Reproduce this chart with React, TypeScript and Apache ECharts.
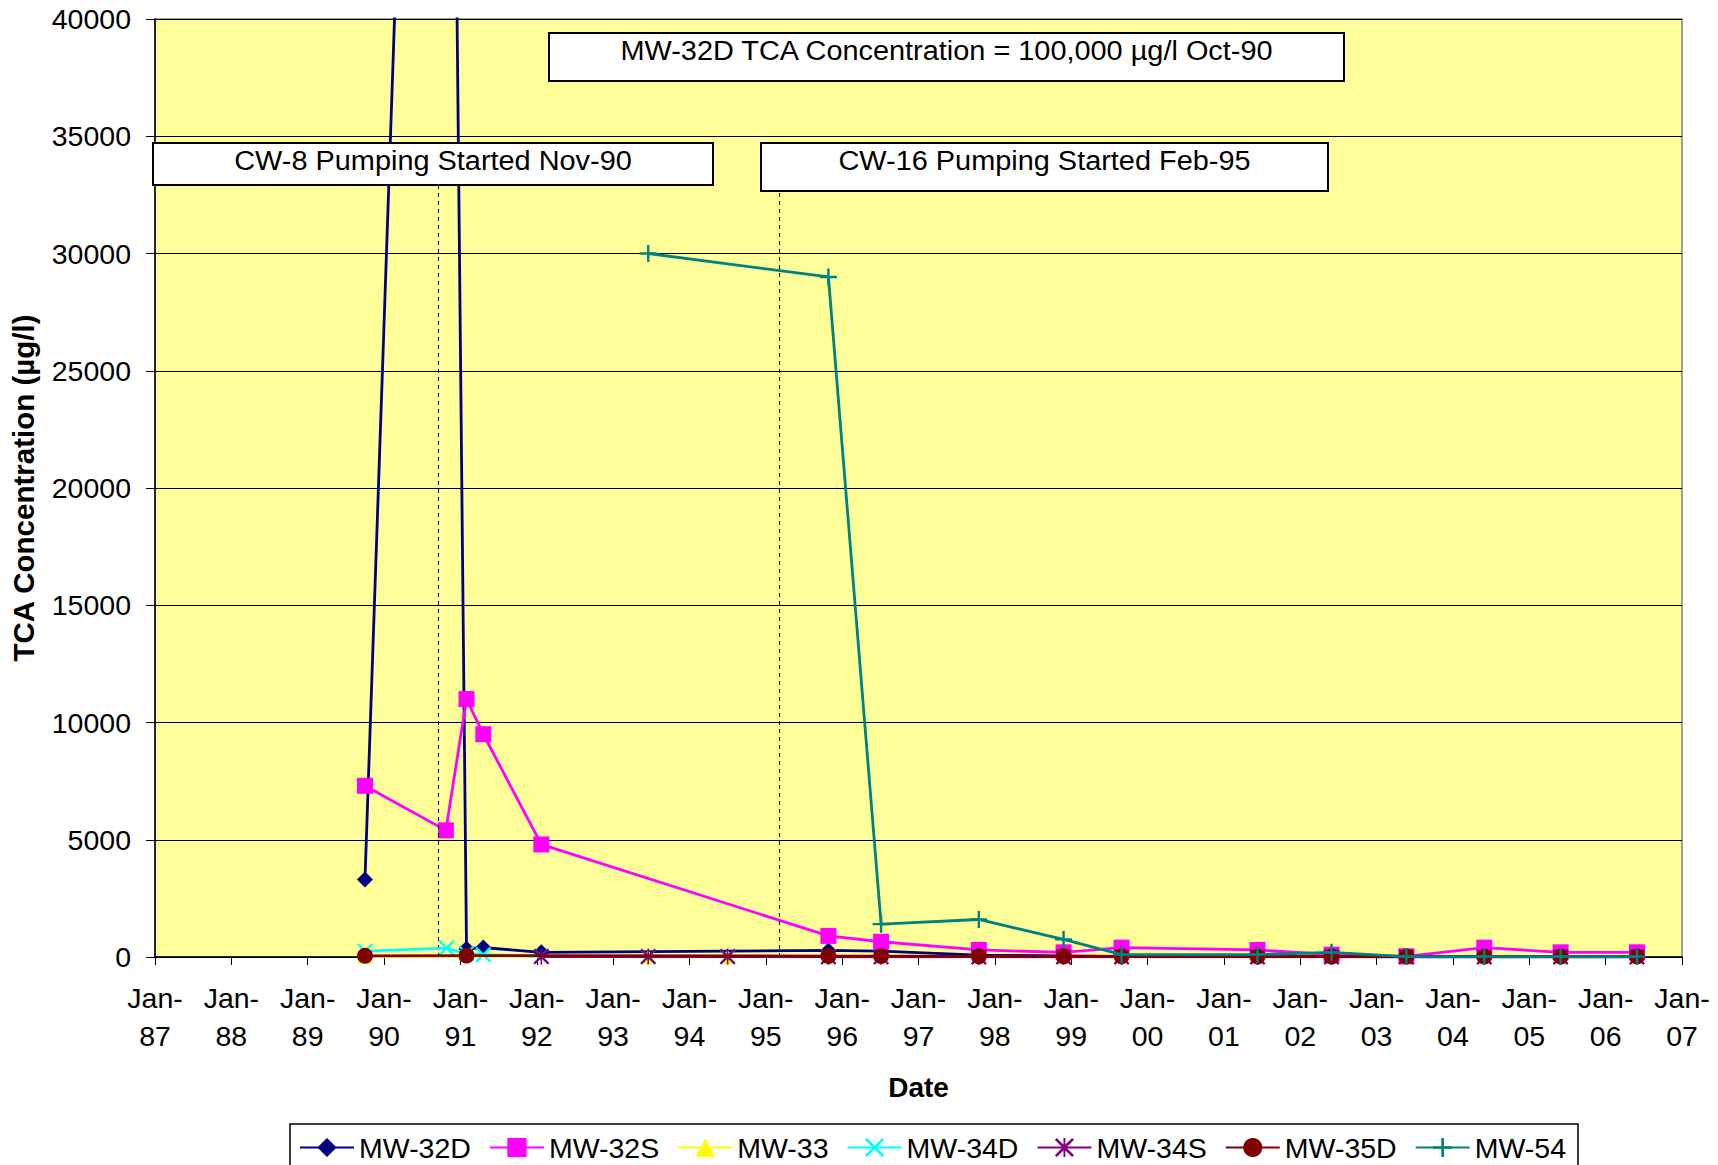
import React, { useEffect, useRef } from 'react';
import * as echarts from 'echarts';

// ---- data (decimal year, TCA µg/l) ----
const mw32dDates = [1989.75, 1990.77, 1991.08, 1991.3, 1992.06, 1995.82, 1996.51, 1997.79, 1998.9, 1999.66, 2001.44, 2002.41, 2003.39, 2004.41, 2005.41, 2006.41];
const mw32dValues = [3300, 100000, 350, 400, 200, 280, 250, 80, 50, 30, 20, 20, 10, 10, 10, 10];

const mw32sDates = [1989.75, 1990.81, 1991.08, 1991.3, 1992.06, 1995.82, 1996.51, 1997.79, 1998.9, 1999.66, 2001.44, 2002.41, 2003.39, 2004.41, 2005.41, 2006.41];
const mw32sValues = [7300, 5400, 11000, 9500, 4800, 900, 650, 300, 200, 400, 300, 100, 30, 400, 200, 200];

const mw33Dates = [1989.75, 1993.46, 1994.5];
const mw33Values = [20, 10, 10];

const mw34dDates = [1989.75, 1990.82, 1991.08, 1991.3, 1992.06, 1993.46, 1994.5, 1995.82, 1996.51];
const mw34dValues = [250, 380, 150, 100, 30, 10, 10, 10, 10];

const mw34sDates = [1992.06, 1993.46, 1994.5, 1995.82, 1996.51, 1997.79, 1998.9, 1999.66, 2001.44, 2002.41, 2003.39, 2004.41, 2005.41, 2006.41];
const mw34sValues = [20, 20, 20, 10, 10, 5, 5, 5, 5, 5, 5, 5, 5, 5];

const mw35dDates = [1989.75, 1991.08, 1995.82, 1996.51, 1997.79, 1998.9, 1999.66, 2001.44, 2002.41, 2003.39, 2004.41, 2005.41, 2006.41];
const mw35dValues = [50, 60, 40, 40, 30, 30, 30, 20, 20, 20, 20, 20, 20];

const mw54Dates = [1993.46, 1995.82, 1996.51, 1997.79, 1998.9, 1999.66, 2001.44, 2002.41, 2003.39, 2004.41, 2005.41, 2006.41];
const mw54Values = [30000, 29000, 1400, 1600, 750, 100, 100, 200, 20, 20, 20, 20];

const seriesNames = ['MW-32D', 'MW-32S', 'MW-33', 'MW-34D', 'MW-34S', 'MW-35D', 'MW-54'];
const seriesDates = [mw32dDates, mw32sDates, mw33Dates, mw34dDates, mw34sDates, mw35dDates, mw54Dates];
const seriesValues = [mw32dValues, mw32sValues, mw33Values, mw34dValues, mw34sValues, mw35dValues, mw54Values];

// pumping start markers (decimal year) and annotation texts
const pumpingStartDates = [1990.71, 1995.18];
const pumpingLineTop = 33000;
const noteTexts = [
  'MW-32D TCA Concentration = 100,000 µg/l Oct-90',
  'CW-8 Pumping Started Nov-90',
  'CW-16 Pumping Started Feb-95',
];

const xMin = 1987;
const xMax = 2007;
const yMin = 0;
const yMax = 40000;
const yStep = 5000;

// ---- styles ----
const FONT = '"Liberation Sans", Arial, Helvetica, sans-serif';
const PLUS = 'path://M8.6,0 L11.4,0 L11.4,8.6 L20,8.6 L20,11.4 L11.4,11.4 L11.4,20 L8.6,20 L8.6,11.4 L0,11.4 L0,8.6 L8.6,8.6 Z';
const XMARK = 'path://M0,2 L2,0 L10,8 L18,0 L20,2 L12,10 L20,18 L18,20 L10,12 L2,20 L0,18 L8,10 Z';
const STAR = 'path://M0,2 L2,0 L10,8 L18,0 L20,2 L12,10 L20,18 L18,20 L10,12 L2,20 L0,18 L8,10 Z M9,0 L11,0 L11,20 L9,20 Z';
const seriesColors = ['#000080', '#FF00FF', '#FFFF00', '#00FFFF', '#800080', '#800000', '#008080'];
const seriesSymbols = ['diamond', 'rect', 'triangle', XMARK, STAR, 'circle', PLUS];
const seriesSymbolSizes = [16, 16, 15, 16, 16, 16, 17];

export default function App() {
  const ref = useRef<HTMLDivElement | null>(null);

  useEffect(() => {
    if (!ref.current) return;
    const chart = echarts.init(ref.current, null, { renderer: 'svg' });

    const series: any[] = seriesNames.map((name, i) => ({
      name,
      type: 'line',
      data: seriesDates[i].map((d, j) => [d, seriesValues[i][j]]),
      symbol: seriesSymbols[i],
      symbolSize: seriesSymbolSizes[i],
      showAllSymbol: true,
      clip: true,
      z: 2 + i,
      lineStyle: { color: seriesColors[i], width: 2.8 },
      itemStyle: { color: seriesColors[i], borderColor: seriesColors[i], borderWidth: 0 },
      emphasis: { disabled: true },
    }));

    series[0].markLine = {
      silent: true,
      symbol: ['none', 'none'],
      label: { show: false },
      lineStyle: { type: [4, 4], color: '#000', width: 1 },
      data: pumpingStartDates.map((d) => [
        { coord: [d, yMin] },
        { coord: [d, pumpingLineTop] },
      ]),
    };

    const boxStyle = { fill: '#ffffff', stroke: '#000000', lineWidth: 2 };
    const textStyle = (text: string) => ({
      text,
      fill: '#000',
      fontSize: 27,
      fontFamily: FONT,
      textAlign: 'center',
      textVerticalAlign: 'middle',
      align: 'center',
      verticalAlign: 'middle',
    });

    const option: any = {
      animation: false,
      backgroundColor: '#ffffff',
      textStyle: { fontFamily: FONT },
      grid: {
        left: 155,
        right: 36,
        top: 19,
        bottom: 208,
        show: true,
        backgroundColor: '#FFFF99',
        borderColor: '#808080',
        borderWidth: 1.5,
      },
      xAxis: {
        type: 'value',
        min: xMin,
        max: xMax,
        interval: 1,
        name: 'Date',
        nameLocation: 'middle',
        nameGap: 116,
        nameTextStyle: { fontSize: 28, fontWeight: 'bold', color: '#000', fontFamily: FONT },
        axisLine: { onZero: false, lineStyle: { color: '#000', width: 1.5 } },
        axisTick: { show: true, inside: false, length: 8, lineStyle: { color: '#000', width: 1 } },
        axisLabel: {
          margin: 22,
          fontSize: 28.5,
          lineHeight: 38,
          color: '#000',
          fontFamily: FONT,
          showMinLabel: true,
          showMaxLabel: true,
          hideOverlap: false,
          formatter: (v: number) => 'Jan-\n' + String(Math.round(v) % 100).padStart(2, '0'),
        },
        splitLine: { show: false },
      },
      yAxis: {
        type: 'value',
        min: yMin,
        max: yMax,
        interval: yStep,
        name: 'TCA Concentration (µg/l)',
        nameLocation: 'middle',
        nameGap: 117,
        nameRotate: 90,
        nameTextStyle: { fontSize: 29.5, fontWeight: 'bold', color: '#000', fontFamily: FONT },
        axisLine: { show: true, lineStyle: { color: '#000', width: 1.5 } },
        axisTick: { show: true, inside: false, length: 9, lineStyle: { color: '#000', width: 1 } },
        axisLabel: {
          margin: 24,
          fontSize: 28.5,
          color: '#000',
          fontFamily: FONT,
          formatter: (v: number) => String(v),
        },
        splitLine: { show: true, lineStyle: { color: '#000', width: 1 } },
      },
      legend: {
        show: true,
        orient: 'horizontal',
        left: 290,
        top: 1124,
        padding: [9, 12, 10, 9],
        itemGap: 18,
        itemWidth: 54,
        itemHeight: 24,
        borderColor: '#000',
        borderWidth: 1.5,
        backgroundColor: '#fff',
        textStyle: { fontSize: 28.5, color: '#000', fontFamily: FONT },
        data: seriesNames,
      },
      graphic: [
        { type: 'rect', z: 100, shape: { x: 549, y: 33, width: 795, height: 48 }, style: boxStyle },
        { type: 'text', z: 101, x: 946.5, y: 51, scaleX: 1.07, style: textStyle(noteTexts[0]) },
        { type: 'rect', z: 100, shape: { x: 153, y: 143, width: 560, height: 42 }, style: boxStyle },
        { type: 'text', z: 101, x: 433, y: 161, scaleX: 1.07, style: textStyle(noteTexts[1]) },
        { type: 'rect', z: 100, shape: { x: 761, y: 143, width: 567, height: 48 }, style: boxStyle },
        { type: 'text', z: 101, x: 1044.5, y: 161, scaleX: 1.07, style: textStyle(noteTexts[2]) },
      ],
      series,
    };

    chart.setOption(option);
    return () => {
      chart.dispose();
    };
  }, []);

  return (
    <div
      ref={ref}
      style={{ position: 'absolute', left: 0, top: 0, width: 1718, height: 1165, background: '#fff' }}
    />
  );
}
